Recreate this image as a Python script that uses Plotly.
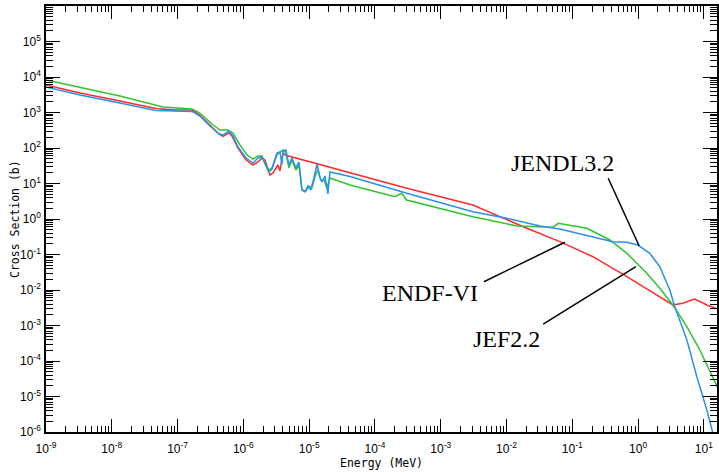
import math
import plotly.graph_objects as go

# Neutron cross sections from three evaluated libraries (energy in MeV, cross section in barns)
energy_endf = [1.00e-9, 3.29e-9, 1.33e-8, 4.70e-8, 9.12e-8, 1.66e-7, 2.19e-7, 3.10e-7, 4.26e-7,
               4.90e-7, 6.04e-7, 6.71e-7, 8.28e-7, 1.10e-6, 1.40e-6, 1.67e-6, 1.92e-6, 2.13e-6,
               2.37e-6, 2.54e-6, 2.82e-6, 3.36e-6, 3.60e-6, 4.00e-6, 4.29e-6, 4.17e-5, 3.06e-4,
               3.08e-3, 1.01e-2, 2.04e-2, 6.47e-2, 0.206, 0.676, 2.14, 3.38, 4.80, 7.29, 11.1, 16.3]
xs_endf = [5.96e3, 3.54e3, 2.11e3, 1.30e3, 1.17e3, 1.17e3, 851, 445, 248,
           211, 265, 218, 100, 45.9, 33.2, 40.4, 52.2, 45.9,
           27.4, 17.3, 19.8, 33.2, 22.5, 72.3, 63.5, 20.4, 7.33,
           2.48, 0.938, 0.547, 0.230, 0.0867, 0.0237, 6.47e-3, 3.78e-3, 4.22e-3, 5.57e-3, 3.78e-3, 2.92e-3]

energy_jendl = [1.00e-9, 3.29e-9, 1.33e-8, 4.70e-8, 1.66e-7, 2.19e-7, 3.10e-7, 4.26e-7, 4.90e-7,
                6.04e-7, 6.95e-7, 8.28e-7, 1.10e-6, 1.40e-6, 1.67e-6, 1.92e-6, 2.20e-6, 2.45e-6,
                2.72e-6, 3.24e-6, 3.60e-6, 3.86e-6, 4.00e-6, 4.44e-6, 4.93e-6, 5.48e-6, 6.30e-6,
                7.00e-6, 7.78e-6, 8.63e-6, 9.59e-6, 1.06e-5, 1.18e-5, 1.32e-5, 1.46e-5, 1.57e-5,
                1.74e-5, 1.93e-5, 2.07e-5, 4.17e-5, 3.06e-4, 3.08e-3, 1.01e-2, 3.22e-2, 6.47e-2,
                0.206, 0.414, 0.676, 0.993, 1.51, 2.14, 3.04, 3.62, 5.52, 7.83, 11.1, 13.7]
xs_jendl = [5.22e3, 3.11e3, 1.85e3, 1.14e3, 1.07e3, 796, 417, 248, 232,
            301, 218, 107, 52.2, 37.8, 52.2, 55.7, 31.1, 21.1,
            25.6, 72.3, 77.1, 33.2, 82.2, 87.9, 33.2, 52.2, 27.4,
            40.4, 6.56, 5.77, 8.51, 6.56, 14.3, 35.4, 14.3, 11.0,
            16.3, 5.06, 21.1, 15.7, 5.30, 1.61, 1.05, 0.635, 0.522,
            0.317, 0.230, 0.221, 0.185, 0.108, 0.0453, 0.0100, 3.39e-3, 3.91e-4, 3.61e-5, 4.17e-6, 9.4e-7]

energy_jef = [1.00e-9, 3.29e-9, 1.33e-8, 6.00e-8, 1.66e-7, 2.19e-7, 3.33e-7, 4.41e-7, 5.83e-7,
              6.95e-7, 8.87e-7, 1.14e-6, 1.40e-6, 1.67e-6, 1.92e-6, 2.20e-6, 2.45e-6, 2.72e-6,
              3.24e-6, 3.60e-6, 4.00e-6, 4.44e-6, 4.93e-6, 5.48e-6, 6.30e-6, 7.00e-6, 7.78e-6,
              8.93e-6, 9.93e-6, 1.10e-5, 1.22e-5, 1.36e-5, 1.51e-5, 1.68e-5, 1.86e-5, 2.07e-5,
              4.17e-5, 2.01e-4, 2.55e-4, 3.03e-4, 3.08e-3, 1.44e-2, 5.07e-2, 6.11e-2, 0.167,
              0.372, 0.676, 1.36, 2.14, 3.38, 5.52, 8.69, 13.7, 16.3]
xs_jef = [8.22e3, 5.22e3, 2.92e3, 1.43e3, 1.26e3, 968, 474, 321, 321,
          265, 122, 63.5, 49.0, 59.6, 59.6, 33.2, 24.0, 27.4,
          63.5, 77.1, 87.9, 72.3, 27.4, 45.9, 24.0, 33.2, 6.56,
          6.15, 8.51, 7.46, 15.2, 24.0, 12.6, 12.6, 7.46, 14.3,
          9.08, 4.25, 5.30, 3.43, 1.16, 0.635, 0.583, 0.757, 0.547,
          0.256, 0.108, 0.0295, 0.0112, 3.78e-3, 9.25e-4, 2.04e-4, 3.61e-5, 1.73e-5]

x_decades = list(range(-9, 2))
y_decades = list(range(-6, 6))


def sup_label(k):
    return "10<sup>%d</sup>" % k


x_major = [10.0 ** k for k in x_decades]
y_major = [10.0 ** k for k in y_decades]
x_minor = [m * 10.0 ** k for k in range(-9, 2) for m in range(2, 10)]
y_minor = [m * 10.0 ** k for k in range(-6, 6) for m in range(2, 10)]

RED = "#ff2b2b"
GREEN = "#2ec42e"
BLUE = "#2b8ff0"

fig = go.Figure()
fig.add_trace(go.Scatter(x=energy_endf, y=xs_endf, mode="lines", name="ENDF-VI",
                         line=dict(color=RED, width=1.5)))
fig.add_trace(go.Scatter(x=energy_jef, y=xs_jef, mode="lines", name="JEF2.2",
                         line=dict(color=GREEN, width=1.5)))
fig.add_trace(go.Scatter(x=energy_jendl, y=xs_jendl, mode="lines", name="JENDL3.2",
                         line=dict(color=BLUE, width=1.5)))

tick_font = dict(family="Liberation Sans", size=12, color="black")
title_font = dict(family="DejaVu Sans Mono", size=11.5, color="black")

fig.update_xaxes(
    type="log", range=[-9, 1.2],
    showgrid=False, zeroline=False,
    showline=True, linecolor="black", linewidth=1.5, mirror="allticks",
    ticks="inside", ticklen=13, tickwidth=1, tickcolor="black",
    tickmode="array", tickvals=x_major, ticktext=[sup_label(k) for k in x_decades],
    ticklabelstandoff=5,
    minor=dict(tickmode="array", tickvals=x_minor, ticks="inside", ticklen=6,
               tickwidth=1, tickcolor="black", showgrid=False),
    tickfont=tick_font,
    title=dict(text="Energy (MeV)", font=title_font, standoff=2),
)
fig.update_yaxes(
    type="log", range=[-6, 6],
    showgrid=False, zeroline=False,
    showline=True, linecolor="black", linewidth=1.5, mirror="allticks",
    ticks="inside", ticklen=14, tickwidth=1, tickcolor="black",
    tickmode="array", tickvals=y_major, ticktext=[sup_label(k) for k in y_decades],
    ticklabelstandoff=1,
    minor=dict(tickmode="array", tickvals=y_minor, ticks="inside", ticklen=7,
               tickwidth=1, tickcolor="black", showgrid=False),
    tickfont=tick_font,
)

# Vertical axis title
fig.add_annotation(text="Cross Section (b)", xref="paper", yref="paper", x=0, y=0.5,
                   xshift=-31, textangle=-90, showarrow=False, font=title_font,
                   xanchor="center", yanchor="middle")

# Library labels with leader lines to their curves
label_font = dict(family="Liberation Serif", size=24, color="black")
labels = [
    ("JENDL3.2", 0.072, 37.8, (0.352, 14.0), (1.04, 0.173)),
    ("ENDF-VI", 6.86e-4, 8.22e-3, (4.54e-3, 0.0171), (0.0773, 0.221)),
    ("JEF2.2", 0.0101, 4.17e-4, (0.0361, 1.10e-3), (0.927, 0.0453)),
]
for text, lx, ly, (x0, y0), (x1, y1) in labels:
    fig.add_annotation(x=math.log10(lx), y=math.log10(ly), xref="x", yref="y",
                       text=text, showarrow=False, font=label_font)
    fig.add_shape(type="line", xref="x", yref="y", x0=x0, y0=y0, x1=x1, y1=y1,
                  line=dict(color="black", width=1.5))

fig.update_layout(
    width=719, height=472,
    margin=dict(l=46, r=2, t=6, b=40, autoexpand=False),
    paper_bgcolor="white", plot_bgcolor="white",
    showlegend=False,
)

fig.write_html("out.html")
